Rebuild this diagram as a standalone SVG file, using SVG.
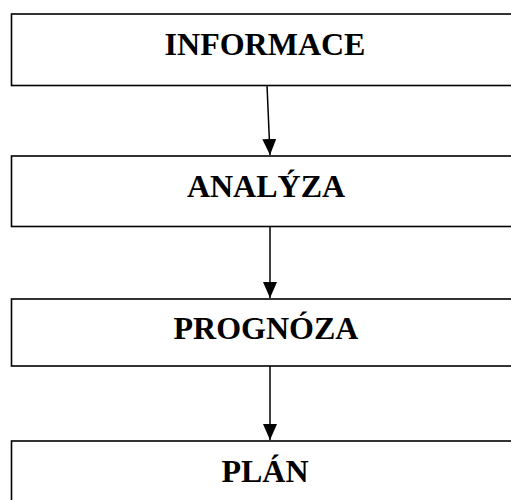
<svg xmlns="http://www.w3.org/2000/svg" width="511" height="500" viewBox="0 0 511 500">
<style>
.box{fill:#fff;stroke:#000;stroke-width:1.6}
.lbl{font-family:"Liberation Serif","Times New Roman",serif;font-weight:bold;font-size:32px;fill:#000;text-anchor:middle}
.con{stroke:#000;stroke-width:1.5;fill:none}
</style>
<defs>
<marker id="ah" markerWidth="16" markerHeight="14" refX="16" refY="7" orient="auto" markerUnits="userSpaceOnUse">
<path d="M0,0 L16,7 L0,14 z" fill="#000"/>
</marker>
</defs>
<g id="n1"><rect class="box" x="11.5" y="14" width="510" height="71.5"/><text class="lbl" x="265" y="55">INFORMACE</text></g>
<g id="n2"><rect class="box" x="11.5" y="156" width="510" height="70.5"/><text class="lbl" x="266" y="197">ANALÝZA</text></g>
<g id="n3"><rect class="box" x="11.5" y="299" width="510" height="67"/><text class="lbl" x="266" y="339">PROGNÓZA</text></g>
<g id="n4"><rect class="box" x="11.5" y="441" width="510" height="75"/><text class="lbl" x="265" y="482">PLÁN</text></g>
<g id="connectors">
<line class="con" x1="267" y1="85" x2="270" y2="155" marker-end="url(#ah)"/>
<line class="con" x1="270" y1="226.5" x2="270" y2="298" marker-end="url(#ah)"/>
<line class="con" x1="270" y1="366" x2="270" y2="440" marker-end="url(#ah)"/>
</g>
</svg>
